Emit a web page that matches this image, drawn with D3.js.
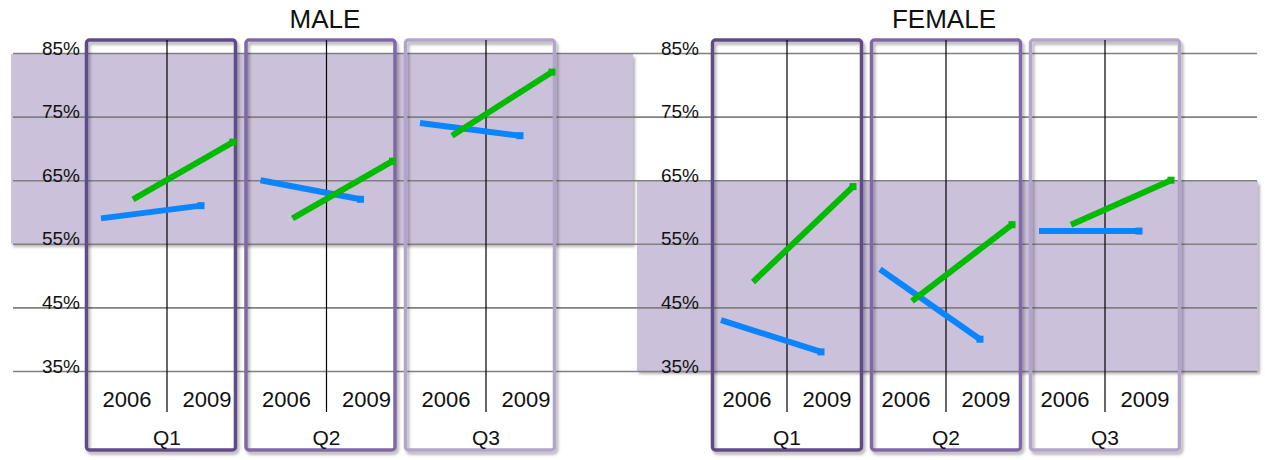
<!DOCTYPE html>
<html>
<head>
<meta charset="utf-8">
<script src="https://cdn.jsdelivr.net/npm/d3@7"></script>
<style>
  html, body { margin: 0; padding: 0; background: #fff; }
  svg { display: block; font-family: "Liberation Sans", Arial, sans-serif; }
</style>
</head>
<body>
<svg id="chart" width="1265" height="460"></svg>
<script>
// ---- data ----
const quarters = ["Q1", "Q2", "Q3"];
const years = ["2006", "2009"];
const yTicks = [35, 45, 55, 65, 75, 85];

// values per quarter: [2006, 2009]
const maleBlue    = [[59, 61], [65, 62], [74, 72]];
const maleGreen   = [[62, 71], [59, 68], [72, 82]];
const femaleBlue  = [[43, 38], [51, 40], [57, 57]];
const femaleGreen = [[49, 64], [46, 58], [58, 65]];

// highlighted value ranges
const maleBand   = [55, 85];
const femaleBand = [35, 65];

const panelTitles = ["MALE", "FEMALE"];

// ---- styles ----
const boxColors  = ["#5f4b87", "#8067a7", "#b3a4cb"];
const bandColor  = "#cbc1da";
const gridColor  = "#808080";
const blueColor  = "#0a84ff";
const greenColor = "#00bb00";

const svg = d3.select("#chart");

const defs = svg.append("defs");
const shadow = defs.append("filter").attr("id", "shadow")
  .attr("x", "-5%").attr("y", "-5%").attr("width", "115%").attr("height", "115%");
shadow.append("feDropShadow")
  .attr("dx", 2).attr("dy", 3).attr("stdDeviation", 1.6)
  .attr("flood-color", "#000").attr("flood-opacity", 0.3);

const y = d3.scaleLinear().domain([35, 85]).range([371, 53]);

const panels = [
  { title: panelTitles[0], titleX: 325, gridX: [13, 635], labelX: 80,
    band: maleBand, bandX: [11, 633], centres: [167, 486], boxShift: -6,
    blue: maleBlue, green: maleGreen },
  { title: panelTitles[1], titleX: 944, gridX: [635, 1257], labelX: 699,
    band: femaleBand, bandX: [637, 1258], centres: [787, 1105], boxShift: 0,
    blue: femaleBlue, green: femaleGreen }
];

const boxW = 149, boxTop = 40, boxBottom = 450;

panels.forEach(p => {
  const g = svg.append("g");

  // quarter slots, centred on the dividing line between years
  const xQ = d3.scalePoint().domain(quarters).range(p.centres);

  // shaded band
  g.append("rect")
    .attr("x", p.bandX[0]).attr("width", p.bandX[1] - p.bandX[0])
    .attr("y", y(p.band[1]) + 1).attr("height", y(p.band[0]) - y(p.band[1]) - 1)
    .attr("fill", bandColor)
    .attr("filter", "url(#shadow)");

  // gridlines + labels
  const gw = p.gridX[1] - p.gridX[0];
  const axis = d3.axisLeft(y).tickValues(yTicks).tickSize(0).tickFormat(d => d + "%");
  const ag = g.append("g").attr("transform", `translate(${p.gridX[0]},0)`).call(axis);
  ag.select(".domain").remove();
  ag.selectAll(".tick line")
    .attr("x1", 0).attr("x2", gw)
    .attr("stroke", gridColor).attr("stroke-width", 1.6);
  ag.selectAll(".tick text")
    .attr("x", p.labelX - p.gridX[0]).attr("dy", 0).attr("y", 1)
    .attr("text-anchor", "end")
    .attr("font-size", 19).attr("fill", "#111")
    .attr("font-family", "Liberation Sans, Arial, sans-serif");

  // title
  g.append("text").attr("x", p.titleX).attr("y", 28)
    .attr("text-anchor", "middle").attr("font-size", 26).attr("fill", "#111")
    .text(p.title);

  quarters.forEach((q, i) => {
    const c = xQ(q);
    const bx = c + p.boxShift - boxW / 2;

    // quarter frame
    g.append("rect")
      .attr("x", bx).attr("y", boxTop).attr("width", boxW).attr("height", boxBottom - boxTop)
      .attr("rx", 3).attr("fill", "none")
      .attr("stroke", boxColors[i]).attr("stroke-width", 3.5)
      .attr("filter", "url(#shadow)");

    // divider between years
    g.append("line")
      .attr("x1", c).attr("x2", c).attr("y1", boxTop).attr("y2", 412)
      .attr("stroke", "#000").attr("stroke-width", 1.2);

    // year labels
    const xYear = d3.scalePoint().domain(years).range([c - 40, c + 40]);
    years.forEach(yr => {
      g.append("text").attr("x", xYear(yr)).attr("y", 407)
        .attr("text-anchor", "middle").attr("font-size", 22).attr("fill", "#111")
        .text(yr);
    });

    // quarter label
    g.append("text").attr("x", c).attr("y", 445)
      .attr("text-anchor", "middle").attr("font-size", 21).attr("fill", "#111")
      .text(q);

    // series lines
    const xBlue  = d3.scalePoint().domain(years).range([c - 66, c + 34]);
    const xGreen = d3.scalePoint().domain(years).range([c - 34, c + 66]);
    const line = xs => d3.line().x((d, k) => xs(years[k])).y(d => y(d));

    [[p.blue[i], xBlue, blueColor], [p.green[i], xGreen, greenColor]].forEach(([vals, xs, col]) => {
      g.append("path").datum(vals)
        .attr("d", line(xs))
        .attr("fill", "none").attr("stroke", col).attr("stroke-width", 6);
      g.append("rect")
        .attr("x", xs(years[1]) - 3.5).attr("y", y(vals[1]) - 3.5)
        .attr("width", 7).attr("height", 7).attr("fill", col);
    });
  });
});
</script>
</body>
</html>
